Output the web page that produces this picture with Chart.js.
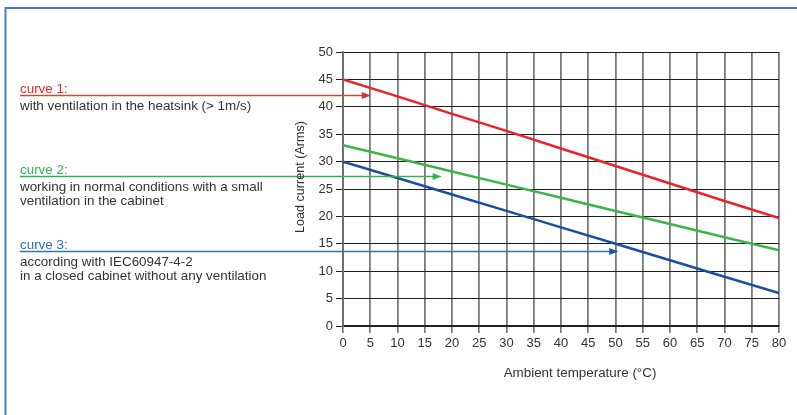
<!DOCTYPE html>
<html>
<head>
<meta charset="utf-8">
<script src="https://cdn.jsdelivr.net/npm/chart.js@4.4.0/dist/chart.umd.min.js"></script>
<style>
  html, body { margin: 0; padding: 0; background: #fff; }
</style>
</head>
<body>
<canvas id="chartDerating" width="797" height="415"></canvas>
<script>
// ambient temperature (°C) and load current (Arms) for each curve
var temperatures = [0, 10, 20, 30, 40, 50, 60, 70, 80];
var curve1 = [45, 41.9, 38.7, 35.6, 32.4, 29.2, 26.0, 22.8, 19.7];
var curve2 = [33, 30.6, 28.2, 25.8, 23.4, 21.0, 18.6, 16.2, 13.8];
var curve3 = [30, 27, 24, 21, 18, 15, 12, 9, 6];

// where each explanation arrow sits (current) and where its head points (temperature)
var arrowLevels = [42.2, 27.4, 13.6];
var arrowTips = [5.1, 18.1, 50.5];

var curveNames = ['curve 1:', 'curve 2:', 'curve 3:'];
var curveNotes = [
    ['with ventilation in the heatsink (> 1m/s)'],
    ['working in normal conditions with a small', 'ventilation in the cabinet'],
    ['according with IEC60947-4-2', 'in a closed cabinet without any ventilation']
];
var xTitle = 'Ambient temperature (°C)';
var yTitle = 'Load current (Arms)';

var curveColors = ['#e8232b', '#3bb54a', '#1b4f9e'];
var labelColors = ['#e8262b', '#33b34a', '#2a6db5'];
var arrowColors = ['#c0503c', '#35b04a', '#2f77a8'];
var headColors = ['#d8323a', '#3bb54a', '#1b56a4'];

function points(values) {
    return temperatures.map(function(t, i) { return { x: t, y: values[i] }; });
}

var fontFamily = "'Liberation Sans', Arial, sans-serif";

var notesPlugin = {
    id: 'notes',
    beforeDraw: function(chart) {
        var ctx = chart.ctx;
        ctx.save();
        // blue frame (top and left edges)
        ctx.strokeStyle = '#4a7cc4';
        ctx.lineWidth = 2;
        ctx.beginPath();
        ctx.moveTo(5.5, 415);
        ctx.lineTo(5.5, 8);
        ctx.lineTo(797, 8);
        ctx.stroke();
        ctx.restore();
    },
    afterDraw: function(chart) {
        var ctx = chart.ctx;
        var xs = chart.scales.x, ys = chart.scales.y;
        ctx.save();
        for (var i = 0; i < arrowLevels.length; i++) {
            var py = Math.round(ys.getPixelForValue(arrowLevels[i])) + 0.5;
            var tip = xs.getPixelForValue(arrowTips[i]);
            ctx.strokeStyle = arrowColors[i];
            ctx.lineWidth = 1.3;
            ctx.beginPath();
            ctx.moveTo(20, py);
            ctx.lineTo(tip - 6, py);
            ctx.stroke();
            ctx.fillStyle = headColors[i];
            ctx.beginPath();
            ctx.moveTo(tip, py);
            ctx.lineTo(tip - 9, py - 3.5);
            ctx.lineTo(tip - 9, py + 3.5);
            ctx.closePath();
            ctx.fill();

            ctx.font = '13.4px ' + fontFamily;
            ctx.textBaseline = 'alphabetic';
            ctx.textAlign = 'left';
            ctx.fillStyle = labelColors[i];
            ctx.fillText(curveNames[i], 20, py - 2.5);
            ctx.fillStyle = '#333';
            for (var k = 0; k < curveNotes[i].length; k++) {
                ctx.fillText(curveNotes[i][k], 20, py + 14.5 + k * 13.5);
            }
        }

        // axis titles (placed a little off-centre, as in the original)
        ctx.fillStyle = '#333';
        ctx.textAlign = 'center';
        ctx.textBaseline = 'middle';
        ctx.font = '13.4px ' + fontFamily;
        ctx.fillText(xTitle, (xs.left + xs.right) / 2 + 19, 373);
        ctx.font = '12.6px ' + fontFamily;
        ctx.translate(301, (ys.top + ys.bottom) / 2 - 12);
        ctx.rotate(-Math.PI / 2);
        ctx.fillText(yTitle, 0, 0);
        ctx.restore();
    }
};

var ctx = document.getElementById('chartDerating');
var myChart = new Chart(ctx, {
    type: 'scatter',
    data: {
        datasets: [curve1, curve2, curve3].map(function(values, i) {
            return {
                label: curveNames[i],
                data: points(values),
                showLine: true,
                borderColor: curveColors[i],
                backgroundColor: curveColors[i],
                borderWidth: 2.5,
                pointRadius: 0,
                tension: 0
            };
        })
    },
    options: {
        responsive: false,
        animation: false,
        layout: { padding: { left: 290, top: 52, right: 18, bottom: 0 } },
        plugins: {
            legend: { display: false },
            tooltip: { enabled: false }
        },
        scales: {
            x: {
                type: 'linear',
                min: 0,
                max: 80,
                afterFit: function(scale) { scale.height = 89; },
                ticks: {
                    stepSize: 5,
                    padding: 3,
                    maxRotation: 0,
                    autoSkip: false,
                    color: '#333',
                    font: { family: fontFamily, size: 13 }
                },
                grid: {
                    color: '#7a7a7a',
                    lineWidth: 1.8,
                    tickLength: 7,
                    tickColor: '#444',
                    tickWidth: 1.2
                },
                border: { color: '#222', width: 1.2 },
                title: { display: false }
            },
            y: {
                min: 0,
                max: 50,
                afterFit: function(scale) { scale.width = 53; },
                ticks: {
                    stepSize: 5,
                    padding: 3,
                    color: '#333',
                    font: { family: fontFamily, size: 13 }
                },
                grid: {
                    color: '#1e1e1e',
                    lineWidth: 1,
                    tickLength: 7,
                    tickColor: '#222'
                },
                border: { color: '#6a6a6a', width: 1.8 },
                title: { display: false }
            }
        }
    },
    plugins: [notesPlugin]
});
</script>
</body>
</html>
